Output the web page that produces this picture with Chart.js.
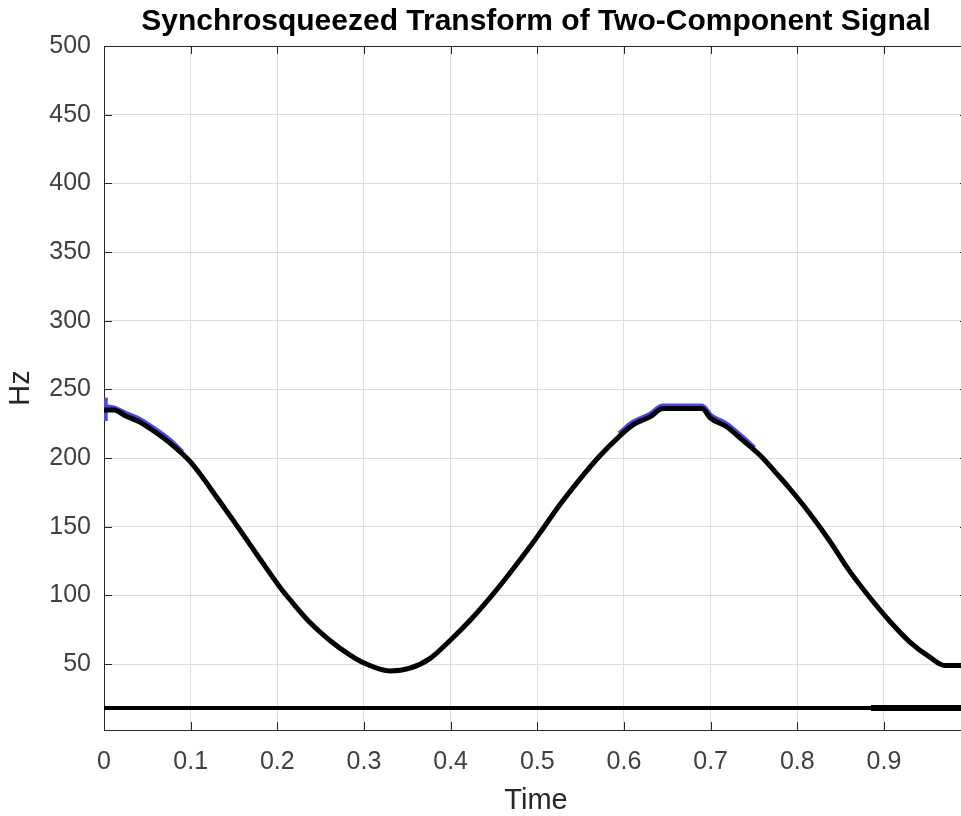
<!DOCTYPE html>
<html><head><meta charset="utf-8">
<script src="https://cdn.jsdelivr.net/npm/chart.js@4/dist/chart.umd.min.js"></script>
<style>html,body{margin:0;padding:0;overflow:hidden;background:#fff}canvas{display:block}</style>
</head><body>
<canvas id="c" width="980" height="816"></canvas>
<script>
const titleText = 'Synchrosqueezed Transform of Two-Component Signal';
const xLabel = 'Time';
const yLabel = 'Hz';
const xTicks = [0, 0.1, 0.2, 0.3, 0.4, 0.5, 0.6, 0.7, 0.8, 0.9];
const yTicks = [50, 100, 150, 200, 250, 300, 350, 400, 450, 500];

// chirp ridge (time in s, frequency in Hz)
const ridgeTime = [0, 0.012, 0.024, 0.042, 0.059, 0.076, 0.1, 0.134, 0.157, 0.18, 0.203, 0.2145, 0.238, 0.261, 0.284, 0.301, 0.33, 0.353, 0.376, 0.399, 0.422, 0.445, 0.468, 0.491, 0.503, 0.526, 0.549, 0.572, 0.595, 0.61, 0.63, 0.645, 0.69, 0.70, 0.718, 0.737, 0.757, 0.78, 0.791, 0.814, 0.837, 0.86, 0.883, 0.907, 0.93, 0.953, 0.97, 0.997];
const ridgeHz   = [235, 235, 231, 226, 219, 211, 197, 168, 147.5, 126.5, 106, 97, 80, 67, 56.5, 50.5, 45, 47, 54, 67, 81.5, 98, 116, 135, 145.5, 166, 184.5, 201.5, 216, 224, 230, 236, 236, 229, 223, 213, 202, 186, 178, 160, 140, 118, 99, 81, 66, 55, 49, 49];

// blue spread near the ridge peaks
const spreadTimeA = [0, 0.012, 0.024, 0.042, 0.059, 0.076, 0.09];
const spreadHzA   = [237, 236, 232.5, 227.5, 220.5, 212.5, 204];
const spreadTimeB = [0.595, 0.61, 0.63, 0.645, 0.69, 0.70, 0.718, 0.737, 0.75];
const spreadHzB   = [217.5, 225.5, 231.5, 237.5, 237.5, 230.5, 224.5, 214.5, 207];
// short vertical spread at the very start
const startTime = [0.002, 0.002];
const startHz   = [227, 244];

// constant tone
const toneTimeA = [0, 0.885];
const toneHzA   = [18, 18];
const toneTimeB = [0.885, 0.997];
const toneHzB   = [18, 18];

const FONT = "'Liberation Sans', Arial, Helvetica, sans-serif";
const pts = (xs, ys) => xs.map((x, i) => ({x: x, y: ys[i]}));

const boxPlugin = {
  id: 'box',
  afterDraw(chart) {
    const {ctx, chartArea: a, scales: {x, y}} = chart;
    ctx.save();
    ctx.strokeStyle = '#262626';
    ctx.lineWidth = 1;
    ctx.beginPath();
    ctx.moveTo(a.left, a.top + 0.5); ctx.lineTo(a.right, a.top + 0.5);
    ctx.moveTo(a.right - 0.5, a.top); ctx.lineTo(a.right - 0.5, a.bottom);
    const L = 8;
    xTicks.forEach(v => {
      const px = Math.round(x.getPixelForValue(v)) + 0.5;
      ctx.moveTo(px, a.bottom); ctx.lineTo(px, a.bottom - L);
      ctx.moveTo(px, a.top); ctx.lineTo(px, a.top + L);
    });
    yTicks.forEach(v => {
      const py = Math.round(y.getPixelForValue(v)) + 0.5;
      ctx.moveTo(a.left, py); ctx.lineTo(a.left + L, py);
      ctx.moveTo(a.right, py); ctx.lineTo(a.right - L, py);
    });
    ctx.stroke();
    // title centred over the axes box
    ctx.fillStyle = '#000';
    ctx.font = "bold 30px " + FONT;
    ctx.textAlign = 'center';
    ctx.textBaseline = 'middle';
    ctx.fillText(titleText, (a.left + a.right) / 2, 22);
    ctx.restore();
  }
};

new Chart(document.getElementById('c'), {
  type: 'line',
  data: {
    datasets: [
      {data: pts(spreadTimeA, spreadHzA), borderColor: '#4a4ae0', borderWidth: 6, pointRadius: 0, cubicInterpolationMode: 'monotone', order: 3},
      {data: pts(spreadTimeB, spreadHzB), borderColor: '#4a4ae0', borderWidth: 6, pointRadius: 0, cubicInterpolationMode: 'monotone', order: 3},
      {data: pts(startTime, startHz), borderColor: '#4a4ae0', borderWidth: 4, pointRadius: 0, order: 3},
      {data: pts(ridgeTime, ridgeHz), borderColor: '#000000', borderWidth: 5, pointRadius: 0, cubicInterpolationMode: 'monotone', order: 1},
      {data: pts(toneTimeA, toneHzA), borderColor: '#000000', borderWidth: 4, pointRadius: 0, order: 1},
      {data: pts(toneTimeB, toneHzB), borderColor: '#000000', borderWidth: 6, pointRadius: 0, order: 1}
    ]
  },
  options: {
    responsive: false,
    animation: false,
    layout: {padding: {left: 0, right: 12, top: 46, bottom: 0}},
    plugins: {
      legend: {display: false},
      tooltip: {enabled: false},
      title: {display: false}
    },
    scales: {
      x: {
        type: 'linear', min: 0, max: 0.997,
        afterBuildTicks: s => { s.ticks = xTicks.map(v => ({value: v})); },
        afterFit: s => { s.height = 86; },
        ticks: {font: {family: FONT, size: 25}, color: '#404040', padding: 17, maxRotation: 0, callback: v => String(v)},
        grid: {color: '#dedede', drawTicks: false},
        border: {display: true, color: '#262626', width: 1},
        title: {display: true, text: xLabel, color: '#262626', font: {family: FONT, size: 29}, padding: {top: 0, bottom: -2}}
      },
      y: {
        type: 'linear', min: 2, max: 500,
        afterBuildTicks: s => { s.ticks = yTicks.map(v => ({value: v})); },
        afterFit: s => { s.width = 104; },
        ticks: {font: {family: FONT, size: 25}, color: '#404040', padding: 13, callback: v => String(v)},
        grid: {color: '#dedede', drawTicks: false},
        border: {display: true, color: '#262626', width: 1},
        title: {display: true, text: yLabel, color: '#262626', font: {family: FONT, size: 29}, padding: {top: 4, bottom: 0}}
      }
    }
  },
  plugins: [boxPlugin]
});
</script>
</body></html>
